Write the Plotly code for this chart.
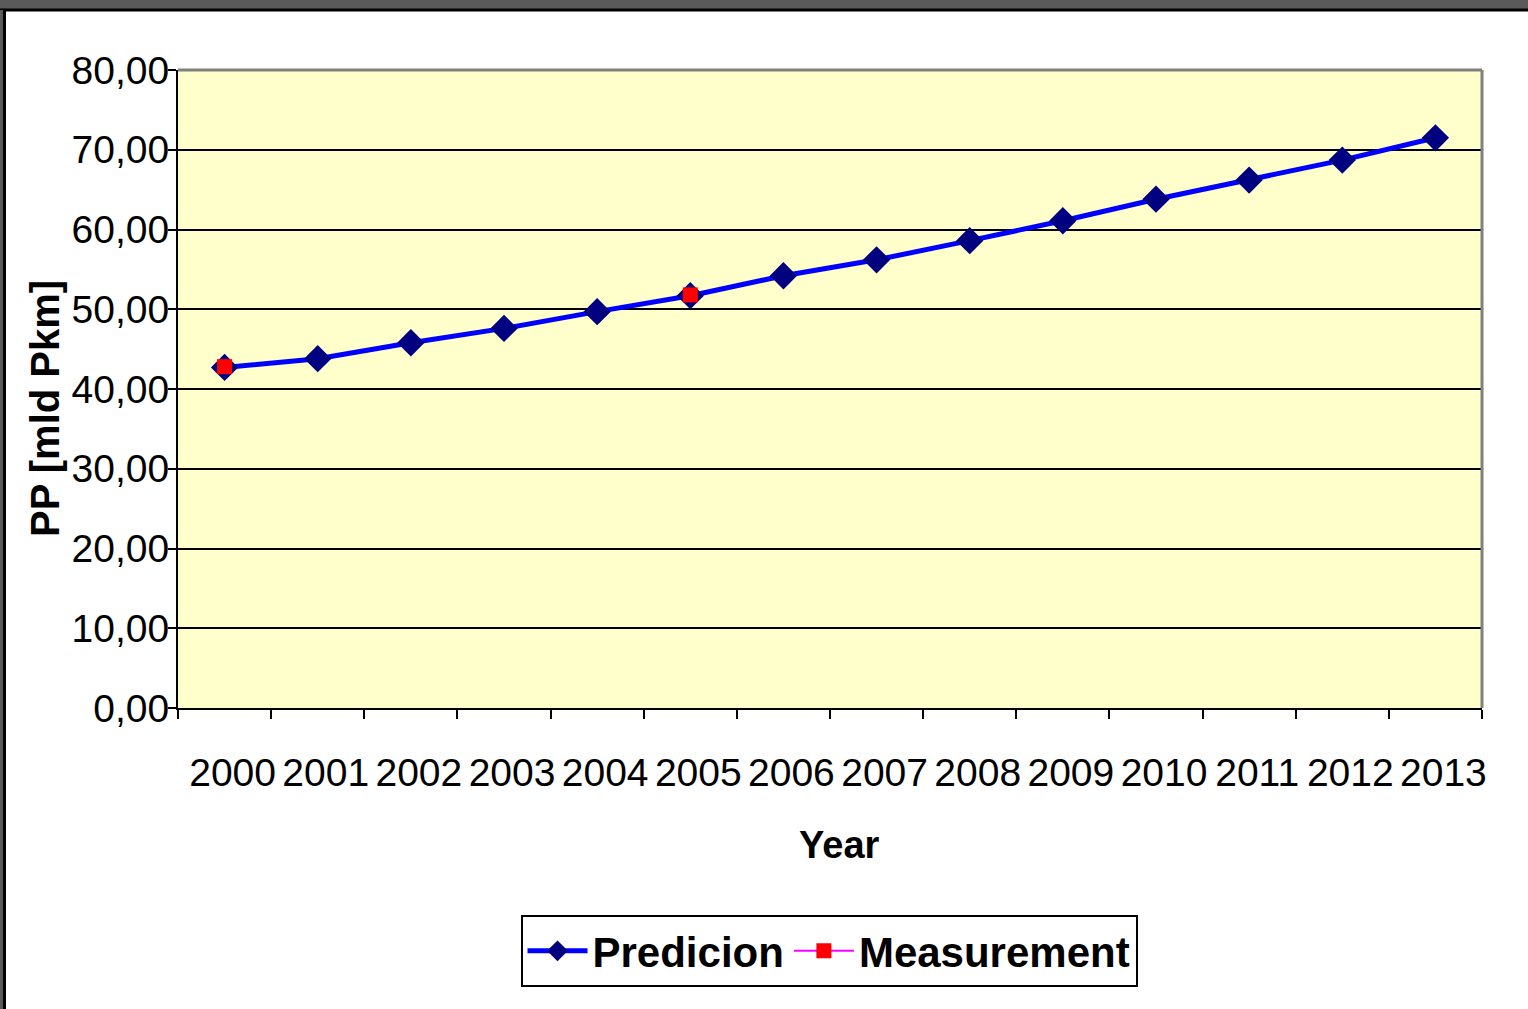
import plotly.graph_objects as go

years = ["2000", "2001", "2002", "2003", "2004", "2005", "2006",
         "2007", "2008", "2009", "2010", "2011", "2012", "2013"]
prediction = [42.7, 43.8, 45.8, 47.6, 49.7, 51.7, 54.2,
              56.2, 58.6, 61.1, 63.8, 66.2, 68.7, 71.5]
measurement = [42.8, None, None, None, None, 51.8, None,
               None, None, None, None, None, None, None]
y_ticks = [0, 10, 20, 30, 40, 50, 60, 70, 80]

W, H = 1528, 1009
L, R, T, B = 178, 1482, 70, 708
pw, ph = R - L, B - T


def px(x):
    return (x - L) / pw


def py(y):
    return (B - y) / ph


FONT = "Liberation Sans, Arial, sans-serif"

fig = go.Figure()
fig.add_trace(go.Scatter(
    x=years, y=prediction, name="Predicion", mode="lines+markers",
    line=dict(color="#0000FF", width=5),
    marker=dict(symbol="diamond", size=21, color="#000080",
                line=dict(width=0)),
))
fig.add_trace(go.Scatter(
    x=years, y=measurement, name="Measurement", mode="lines+markers",
    connectgaps=False,
    line=dict(color="#FF00FF", width=2),
    marker=dict(symbol="square", size=15, color="#FF0000",
                line=dict(width=0)),
))

shapes = [
    dict(type="rect", xref="paper", yref="paper",
         x0=px(-5), x1=px(W + 5), y0=py(9), y1=py(-5),
         fillcolor="#5A5A5A", line=dict(width=0), layer="above"),
    dict(type="line", xref="paper", yref="paper",
         x0=px(0), x1=px(W), y0=py(10), y1=py(10),
         line=dict(color="#000000", width=3), layer="above"),
    dict(type="rect", xref="paper", yref="paper",
         x0=px(-5), x1=px(3), y0=py(H + 5), y1=py(10),
         fillcolor="#5A5A5A", line=dict(width=0), layer="above"),
    dict(type="line", xref="paper", yref="paper",
         x0=px(4.5), x1=px(4.5), y0=py(H + 5), y1=py(10),
         line=dict(color="#000000", width=3), layer="above"),
    dict(type="line", xref="paper", yref="paper",
         x0=0, x1=1, y0=1, y1=1,
         line=dict(color="#808080", width=3), layer="above"),
    dict(type="line", xref="paper", yref="paper",
         x0=1, x1=1, y0=0, y1=1,
         line=dict(color="#808080", width=3), layer="above"),
]

annotations = [
    dict(text="<b>Year</b>", xref="paper", yref="paper",
         x=px(840), y=py(845), xanchor="center", yanchor="middle",
         showarrow=False, font=dict(family=FONT, size=38, color="#000000")),
    dict(text="<b>PP [mld Pkm]</b>", xref="paper", yref="paper",
         x=px(45), y=py(409), xanchor="center", yanchor="middle",
         textangle=-90, showarrow=False,
         font=dict(family=FONT, size=40, color="#000000")),
]

fig.update_layout(
    width=W, height=H,
    margin=dict(l=L, r=W - R, t=T, b=H - B, pad=0),
    paper_bgcolor="#FFFFFF",
    plot_bgcolor="#FFFFCC",
    separators=", ",
    font=dict(family=FONT, size=39, color="#000000"),
    showlegend=True,
    legend=dict(
        orientation="h", x=px(829), xanchor="center",
        y=py(915), yanchor="top",
        bordercolor="#000000", borderwidth=2, bgcolor="#FFFFFF",
        font=dict(family=FONT, size=42, color="#000000", weight="bold"),
        itemwidth=60, tracegroupgap=0,
    ),
    shapes=shapes,
    annotations=annotations,
    xaxis=dict(
        type="category", categoryorder="array", categoryarray=years,
        range=[-0.5, len(years) - 0.5],
        showgrid=False, zeroline=False,
        showline=True, linecolor="#000000", linewidth=2,
        ticks="outside", tickson="boundaries", ticklen=9, tickwidth=2,
        tickcolor="#000000", tickangle=0,
        tickfont=dict(family=FONT, size=39),
        ticklabelstandoff=29, ticklabelshift=8,
    ),
    yaxis=dict(
        range=[0, 80], tickvals=y_ticks, tickformat=".2f",
        showgrid=True, gridcolor="#000000", gridwidth=2,
        zeroline=False,
        showline=True, linecolor="#000000", linewidth=2,
        ticks="outside", ticklen=8, tickwidth=2, tickcolor="#000000",
        tickfont=dict(family=FONT, size=39),
        ticklabelstandoff=-9,
    ),
)

fig.write_html("out.html", post_script="document.body.style.margin='0';",
               config={"displayModeBar": False})
